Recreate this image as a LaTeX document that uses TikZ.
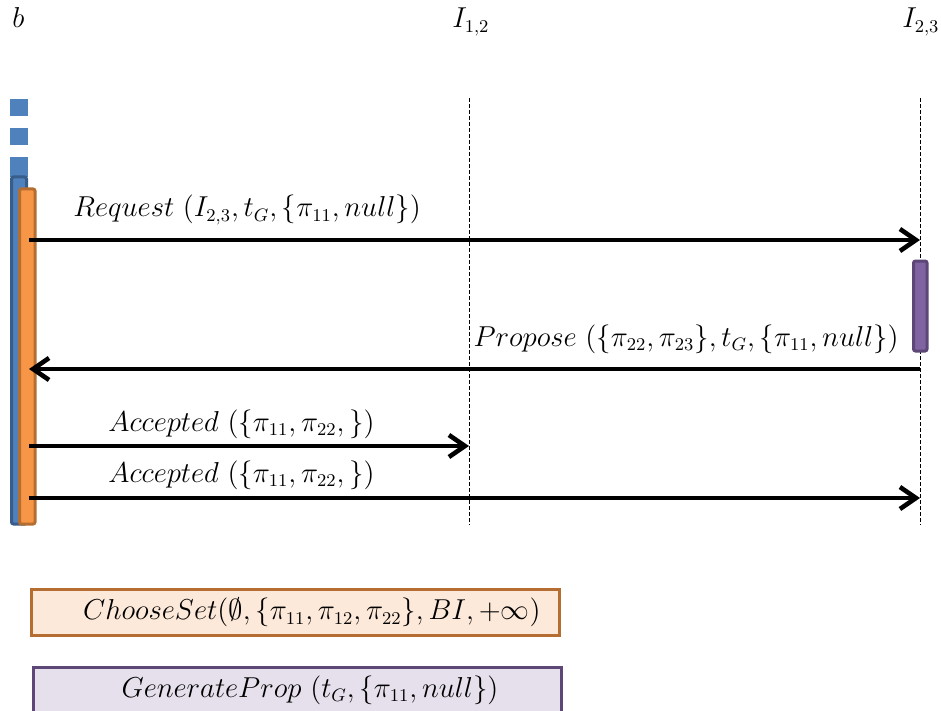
\documentclass[tikz,border=0pt]{standalone}
\usepackage{amsmath,amssymb}
\usetikzlibrary{arrows.meta}

\definecolor{execblue}{HTML}{4F81BD}
\definecolor{execblueline}{HTML}{385D8A}
\definecolor{execorange}{HTML}{F79646}
\definecolor{execorangeline}{HTML}{B66D31}
\definecolor{execpurple}{HTML}{8064A2}
\definecolor{execpurpleline}{HTML}{5C4776}
\definecolor{procorange}{HTML}{FDE9D9}
\definecolor{procpurple}{HTML}{E5E0EC}

\begin{document}
\begin{tikzpicture}[x=0.5pt,y=-0.5pt,
    msg/.style={line width=2.3pt,-{Straight Barb[length=8pt,width=11pt]}},
    lifeline/.style={line width=0.5pt,dash pattern=on 2pt off 1pt},
    lbl/.style={font=\fontsize{13.3}{16}\selectfont,inner sep=0pt,anchor=base west},
    procbox/.style={rectangle,line width=1.5pt,minimum height=23pt,inner ysep=0pt,
        font=\fontsize{13.3}{16}\selectfont}]
    \clip (0,0) rectangle (941,711);

    %participants
    \node[lbl] (b) at (12,28) {$b$};
    \node[lbl] (i12) at (452,28) {$I_{1,2}$};
    \node[lbl] (i23) at (902,28) {$I_{2,3}$};

    %lifelines
    \coordinate (l12top) at (469,98);
    \coordinate (l12bot) at (469,525);
    \coordinate (l23top) at (920,98);
    \coordinate (l23bot) at (920,525);
    \draw[lifeline] (l12top) -- (l12bot);
    \draw[lifeline] (l23top) -- (l23bot);

    %activation of b
    \fill[execblue] (10,99) rectangle (28,116);
    \fill[execblue] (10,128) rectangle (28,145);
    \fill[execblue] (10,157) rectangle (28,177);
    \filldraw[fill=execblue,draw=execblueline,line width=1.5pt,rounded corners=1pt] (11.5,177) rectangle (26.5,524);
    \filldraw[fill=execorange,draw=execorangeline,line width=1.5pt,rounded corners=1pt] (19.5,189) rectangle (35,524);

    %activation of I_{2,3}
    \filldraw[fill=execpurple,draw=execpurpleline,line width=1.5pt,rounded corners=1pt] (913.5,261) rectangle (927,351);

    %messages
    \coordinate (req-s) at (29,240);
    \coordinate (req-e) at (920,240);
    \coordinate (prop-s) at (920,369);
    \coordinate (prop-e) at (29,369);
    \coordinate (acc1-s) at (29,446);
    \coordinate (acc1-e) at (469,446);
    \coordinate (acc2-s) at (29,498);
    \coordinate (acc2-e) at (920,498);

    \draw[msg] (req-s) -- (req-e);
    \draw[msg] (prop-s) -- (prop-e);
    \draw[msg] (acc1-s) -- (acc1-e);
    \draw[msg] (acc2-s) -- (acc2-e);

    \node[lbl] (reqlbl) at (73,217) {$Request\ (I_{2,3}, t_G, \{\pi_{11}, null\})$};
    \node[lbl,anchor=base east] (proplbl) at (899,346) {$Propose\ (\{\pi_{22}, \pi_{23}\}, t_G, \{\pi_{11}, null\})$};
    \node[lbl] (acc1lbl) at (108,431) {$Accepted\ (\{\pi_{11}, \pi_{22},\})$};
    \node[lbl] (acc2lbl) at (108,482) {$Accepted\ (\{\pi_{11}, \pi_{22},\})$};

    %procedures
    \node[procbox,draw=execorangeline,fill=procorange,text width=245pt,inner xsep=9.5pt,align=right] (choose) at (295.5,612.5)
        {$ChooseSet(\emptyset,\{\pi_{11},\pi_{12},\pi_{22}\},BI,+\infty)$};
    \node[procbox,draw=execpurpleline,fill=procpurple,minimum width=264pt,minimum height=28pt,anchor=north west] (genprop) at (32,666) {};
    \node[lbl,anchor=base] (genlbl) at (310,697) {$GenerateProp\ (t_G,\{\pi_{11}, null\})$};
\end{tikzpicture}
\end{document}
